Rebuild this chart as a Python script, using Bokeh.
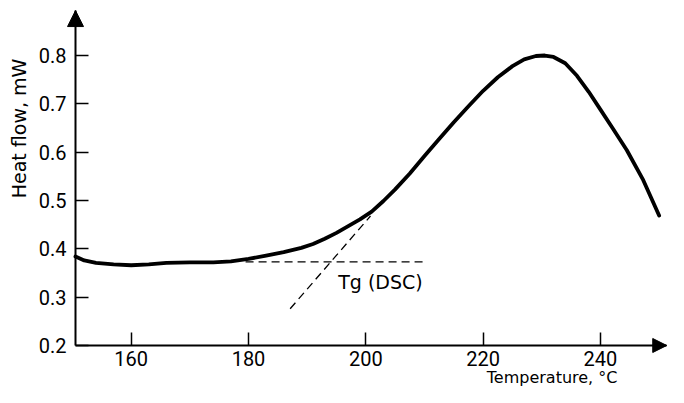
from bokeh.plotting import figure
from bokeh.models import Range1d, FixedTicker, Label, Arrow, NormalHead
from bokeh.embed import file_html
from bokeh.resources import INLINE
import math

# ---- data ----
temp = [150.5, 152, 154, 157, 160, 163, 166, 170, 174, 177, 180, 183, 186, 189,
        191, 193, 195, 197, 199, 201, 203, 205, 207.5, 210, 212.5, 215, 217.5,
        220, 222.5, 225, 227, 229, 230.5, 232, 234, 236, 238, 240, 242, 244.5,
        247.3, 250]
heat = [0.384, 0.376, 0.371, 0.368, 0.366, 0.368, 0.371, 0.372, 0.372, 0.374,
        0.379, 0.386, 0.393, 0.402, 0.410, 0.421, 0.433, 0.447, 0.461, 0.477,
        0.499, 0.523, 0.556, 0.592, 0.627, 0.662, 0.695, 0.727, 0.755, 0.778,
        0.792, 0.799, 0.800, 0.797, 0.784, 0.758, 0.725, 0.688, 0.651, 0.604,
        0.542, 0.469]

base_x = [179.5, 210.0]
base_y = [0.373, 0.373]
tang_x = [187.1, 200.8]
tang_y = [0.276, 0.468]

x_ticks = [160, 180, 200, 220, 240]
y_ticks = [0.2, 0.3, 0.4, 0.5, 0.6, 0.7, 0.8]
y_tick_labels = ["0.2", "0.3", "0.4", "0.5", "0.6", "0.7", "0.8"]

# axis extents (origin and arrow tips) and the visible window
AX_X0, AX_X1 = 150.51, 251.3
AX_Y0, AX_Y1 = 0.2, 0.893
VIEW_X = (137.72, 251.6)
VIEW_Y = (0.1131, 0.9138)

FONT = "Roboto"
TFONT = "DejaVu Sans"

p = figure(width=668, height=387, output_backend="svg", toolbar_location=None,
           x_range=Range1d(*VIEW_X), y_range=Range1d(*VIEW_Y),
           min_border_left=0, min_border_right=0, min_border_top=0,
           min_border_bottom=0)
p.outline_line_color = None
p.xgrid.visible = False
p.ygrid.visible = False
p.background_fill_color = "white"
p.border_fill_color = "white"

for ax in (p.xaxis, p.yaxis):
    ax.axis_line_width = 2
    ax.axis_line_color = "black"
    ax.major_tick_in = 13
    ax.major_tick_out = 0
    ax.major_tick_line_width = 1.5
    ax.minor_tick_line_color = None
    ax.major_label_text_font = FONT
    ax.major_label_text_font_size = "20px"
    ax.major_label_text_color = "black"

p.xaxis.fixed_location = AX_Y0
p.yaxis.fixed_location = AX_X0
p.xaxis.bounds = (AX_X0, AX_X1)
p.yaxis.bounds = (AX_Y0, AX_Y1)
p.xaxis.ticker = FixedTicker(ticks=x_ticks)
p.yaxis.ticker = FixedTicker(ticks=y_ticks)
p.yaxis.major_label_overrides = {t: l for t, l in zip(y_ticks, y_tick_labels)}
p.xaxis.major_label_standoff = 6
p.yaxis.major_label_standoff = 9

# curve
p.line(temp, heat, line_width=3.8, line_color="black", line_join="round",
       line_cap="round")
# tangent constructions
p.line(base_x, base_y, line_width=1.3, line_color="black", line_dash="8 5")
p.line(tang_x, tang_y, line_width=1.3, line_color="black", line_dash="8 5")

p.add_layout(Label(x=195.3, y=0.332, text="Tg (DSC)", text_font=TFONT,
                   text_font_size="19px", text_baseline="middle",
                   text_align="left", text_color="black"))

# axis arrowheads
p.add_layout(Arrow(x_start=AX_X0, y_start=0.80, x_end=AX_X0, y_end=AX_Y1,
                   line_alpha=0, end=NormalHead(size=16, fill_color="black",
                                                line_color="black")))
p.add_layout(Arrow(x_start=245, y_start=AX_Y0, x_end=AX_X1, y_end=AX_Y0,
                   line_alpha=0, end=NormalHead(size=14, fill_color="black",
                                                line_color="black")))

# axis titles
p.add_layout(Label(x=140.8, y=0.649,
                   text="Heat flow, mW", angle=math.pi / 2, text_font=TFONT,
                   text_font_size="19px", text_align="center",
                   text_baseline="middle", text_color="black"))
p.add_layout(Label(x=242.9, y=0.1142,
                   text="Temperature, °C", text_font=TFONT,
                   text_font_size="16px", text_align="right",
                   text_baseline="bottom", text_color="black"))

open("out.html", "w").write(file_html(p, INLINE))
